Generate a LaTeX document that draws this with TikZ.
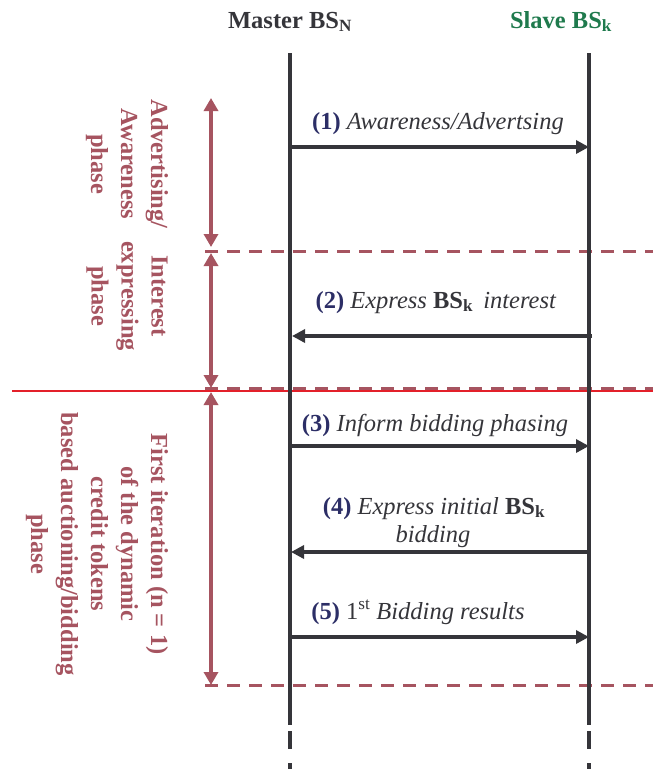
\documentclass[tikz,border=0pt]{standalone}
\usepackage{fontspec}
\setmainfont{Liberation Serif}
\usetikzlibrary{arrows.meta}
\definecolor{dk}{HTML}{35353A}
\definecolor{nv}{HTML}{2C2E66}
\definecolor{ph}{HTML}{A65460}
\definecolor{gr}{HTML}{1F7A4D}
\definecolor{redl}{HTML}{E3202A}
\begin{document}
\begin{tikzpicture}[x=1pt,y=-1pt,
  life/.style={draw=dk,line width=4pt},
  msg/.style={draw=dk,line width=4pt,-{Triangle[length=13pt,width=13pt]}},
  pharrow/.style={draw=ph,line width=4pt,{Triangle[length=13pt,width=14pt]}-{Triangle[length=13pt,width=14pt]}},
  phdash/.style={draw=ph,line width=3pt,dash pattern=on 13pt off 9pt},
  hdr/.style={font=\fontsize{24.5}{30}\selectfont\bfseries,inner sep=0pt,anchor=base},
  lbl/.style={font=\fontsize{24.5}{28}\selectfont,text=dk,inner sep=0pt,anchor=base},
  phtxt/.style={font=\fontsize{24.5}{30}\selectfont\bfseries,text=ph,rotate=-90,align=center,inner sep=0pt}
]
\useasboundingbox (0,0) rectangle (653,769);
% headers
\node[hdr,text=dk] (master) at (290,28) {Master BS\textsubscript{N}};
\node[hdr,text=gr] (slave) at (561,28) {Slave BS\textsubscript{k}};
% lifeline coordinates
\coordinate (mtop) at (290,53);
\coordinate (mbot) at (290,725);
\coordinate (stop) at (589,53);
\coordinate (sbot) at (589,725);
\coordinate (md1a) at (290,731); \coordinate (md1b) at (290,749);
\coordinate (md2a) at (290,763); \coordinate (md2b) at (290,769);
\coordinate (sd1a) at (589,731); \coordinate (sd1b) at (589,749);
\coordinate (sd2a) at (589,763); \coordinate (sd2b) at (589,769);
% phase separators
\coordinate (d1a) at (205,251); \coordinate (d1b) at (653,251);
\coordinate (d2a) at (205,388); \coordinate (d2b) at (653,388);
\coordinate (d3a) at (205,685); \coordinate (d3b) at (653,685);
\coordinate (ra) at (12,391); \coordinate (rb) at (653,391);
\draw[phdash] (d1a) -- (d1b);
\draw[phdash] (d2a) -- (d2b);
\draw[phdash] (d3a) -- (d3b);
\draw[draw=redl,line width=1.5pt] (ra) -- (rb);
% lifelines
\draw[life] (mtop) -- (mbot);
\draw[life] (stop) -- (sbot);
\draw[life] (md1a) -- (md1b);
\draw[life] (md2a) -- (md2b);
\draw[life] (sd1a) -- (sd1b);
\draw[life] (sd2a) -- (sd2b);
% phase arrows
\coordinate (p1t) at (211,98);  \coordinate (p1b) at (211,247);
\coordinate (p2t) at (211,253); \coordinate (p2b) at (211,388);
\coordinate (p3t) at (211,392); \coordinate (p3b) at (211,685);
\draw[pharrow] (p1t) -- (p1b);
\draw[pharrow] (p2t) -- (p2b);
\draw[pharrow] (p3t) -- (p3b);
% phase texts
\node[phtxt] (ph1) at (127,164) {Advertising/\\Awareness\\phase};
\node[phtxt] (ph2) at (127,296) {Interest\\expressing\\phase};
\node[phtxt] (ph3) at (97,544) {First iteration (n = 1)\\of the dynamic\\credit tokens\\based auctioning/bidding\\phase};
% messages
\coordinate (m1) at (290,147); \coordinate (s1) at (589,147);
\coordinate (m2) at (292,336); \coordinate (s2) at (592,336);
\coordinate (m3) at (290,446); \coordinate (s3) at (589,446);
\coordinate (m4) at (291,552); \coordinate (s4) at (589,552);
\coordinate (m5) at (290,637); \coordinate (s5) at (589,637);
\draw[msg] (m1) -- (s1);
\draw[msg] (s2) -- (m2);
\draw[msg] (m3) -- (s3);
\draw[msg] (s4) -- (m4);
\draw[msg] (m5) -- (s5);
% message labels
\node[lbl] (l1) at (438,129) {{\color{nv}\textbf{(1)}} \textit{Awareness/Advertsing}};
\node[lbl] (l2) at (436,308) {{\color{nv}\textbf{(2)}} \textit{Express} \textbf{BS\textsubscript{k}}\hspace{4pt} \textit{interest}};
\node[lbl] (l3) at (435,431) {{\color{nv}\textbf{(3)}} \textit{Inform bidding phasing}};
\node[lbl] (l4a) at (434,514) {{\color{nv}\textbf{(4)}} \textit{Express initial} \textbf{BS\textsubscript{k}}};
\node[lbl] (l4b) at (433,542) {\textit{bidding}};
\node[lbl] (l5) at (418,619) {{\color{nv}\textbf{(5)}} 1\textsuperscript{st} \textit{Bidding results}};
\end{tikzpicture}
\end{document}
